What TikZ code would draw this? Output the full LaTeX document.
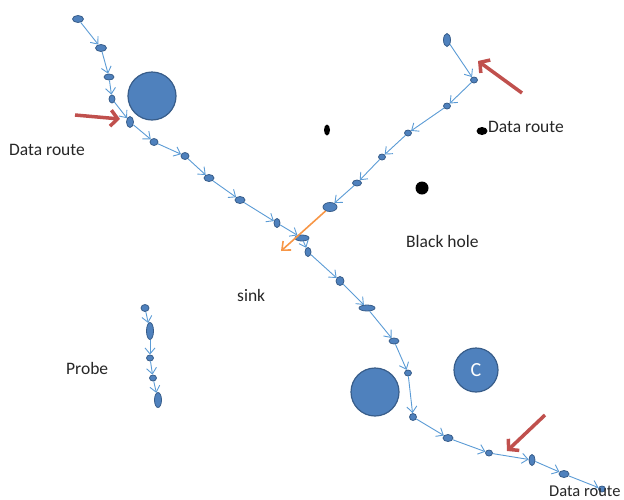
\documentclass[tikz,border=0pt]{standalone}
\usepackage{fontspec}
\setmainfont{Carlito}
\usetikzlibrary{arrows.meta,shapes.geometric}
\definecolor{nodefill}{RGB}{79,129,189}
\definecolor{nodeedge}{RGB}{56,93,138}
\definecolor{linkblue}{RGB}{91,155,213}
\definecolor{redarr}{RGB}{192,80,77}
\definecolor{orangearr}{RGB}{247,150,70}
\tikzset{
  nd/.style={ellipse,fill=nodefill,draw=nodeedge,line width=0.8pt,inner sep=0pt},
  blk/.style={ellipse,fill=black,inner sep=0pt},
  bigc/.style={circle,fill=nodefill,draw=nodeedge,line width=1.2pt,inner sep=0pt,minimum size=48pt},
  link/.style={draw=linkblue,line width=0.9pt,-{Straight Barb[length=6pt,width=10pt]}},
  redarrow/.style={draw=redarr,line width=3.5pt,-{Straight Barb[length=7pt,width=16pt]}},
  orangearrow/.style={draw=orangearr,line width=1.6pt,-{Straight Barb[length=7pt,width=12pt]}},
  lbl/.style={anchor=base west,inner sep=0pt,font=\fontsize{17.5}{20}\selectfont,text=black!85}
}
\newcommand\dotnode[5]{\node[nd,minimum width=#4pt,minimum height=#5pt] (#1) at (#2,#3) {};}
\begin{document}
\begin{tikzpicture}[x=1pt,y=-1pt]
\useasboundingbox (0,0) rectangle (624,499);
% big circles
\node[bigc] (bc1) at (152,96) {};
\node[bigc] (bc2) at (375,392) {};
\node[bigc,minimum size=44pt,text=white,font=\fontsize{20}{22}\selectfont] (cc) at (476,370) {C};
% black holes
\node[blk,minimum width=6pt,minimum height=11pt] (k1) at (327,130) {};
\node[blk,minimum width=11pt,minimum height=8pt] (k2) at (482,131) {};
\node[blk,minimum width=13pt,minimum height=13pt] (k3) at (422,188) {};
% main chain
\dotnode{m1}{78}{19}{11}{7}
\dotnode{m2}{101}{48}{11}{7}
\dotnode{m3}{109}{77}{10}{6}
\dotnode{m4}{112}{99}{6}{8}
\dotnode{m5}{130}{122}{7}{11}
\dotnode{m6}{154}{142}{8}{7}
\dotnode{m7}{185}{156}{8}{7}
\dotnode{m8}{209}{178}{10}{7}
\dotnode{m9}{240}{200}{10}{7}
\dotnode{m10}{277}{223}{6}{9}
\dotnode{m11}{302}{238}{14}{6}
\dotnode{m12}{308}{252}{6}{9}
\dotnode{m13}{340}{281}{8}{9}
\dotnode{m14}{367}{308}{16}{6}
\dotnode{m15}{394}{341}{10}{6}
\dotnode{m16}{408}{373}{7}{6}
\dotnode{m17}{413}{417}{7}{7}
\dotnode{m18}{448}{438}{10}{7}
\dotnode{m19}{489}{453}{7}{6}
\dotnode{m20}{532}{460}{6}{11}
\dotnode{m21}{564}{474}{10}{7}
\dotnode{m22}{602}{489}{7}{6}
% top-right chain
\dotnode{t1}{447}{40}{7}{13}
\dotnode{t2}{474}{80}{7}{6}
\dotnode{t3}{447}{106}{7}{6}
\dotnode{t4}{408}{133}{7}{6}
\dotnode{t5}{382}{157}{7}{6}
\dotnode{t6}{357}{183}{9}{6}
\dotnode{t7}{330}{207}{14}{9}
% probe chain
\dotnode{p1}{145}{308}{8}{7}
\dotnode{p2}{150}{331}{7}{17}
\dotnode{p3}{150}{358}{7}{6}
\dotnode{p4}{153}{378}{7}{6}
\dotnode{p5}{158}{400}{7}{15}
% links
\foreach \a/\b in {m1/m2,m2/m3,m3/m4,m4/m5,m5/m6,m6/m7,m7/m8,m8/m9,m9/m10,m10/m11,m11/m12,m12/m13,m13/m14,m14/m15,m15/m16,m16/m17,m17/m18,m18/m19,m19/m20,m20/m21,m21/m22,
  t1/t2,t2/t3,t3/t4,t4/t5,t5/t6,t6/t7,p1/p2,p2/p3,p3/p4,p4/p5}
  \draw[link] (\a) -- (\b);
% orange arrow
\coordinate (otip) at (281,251);
\draw[orangearrow] (t7) -- (otip);
% red arrows
\coordinate (r1s) at (75,115);
\coordinate (r1e) at (120,119);
\coordinate (r2s) at (522,93);
\coordinate (r2e) at (478,61);
\coordinate (r3s) at (545,415);
\coordinate (r3e) at (507,451);
\draw[redarrow] (r1s) -- (r1e);
\draw[redarrow] (r2s) -- (r2e);
\draw[redarrow] (r3s) -- (r3e);
% labels
\node[lbl] (l1) at (9,155) {Data route};
\node[lbl] (l2) at (488,132) {Data route};
\node[lbl] (l3) at (406,247) {Black hole};
\node[lbl] (l4) at (237,301) {sink};
\node[lbl] (l5) at (66,374) {Probe};
\node[lbl,font=\fontsize{16.5}{20}\selectfont] (l6) at (549,496) {Data route};
\end{tikzpicture}
\end{document}
